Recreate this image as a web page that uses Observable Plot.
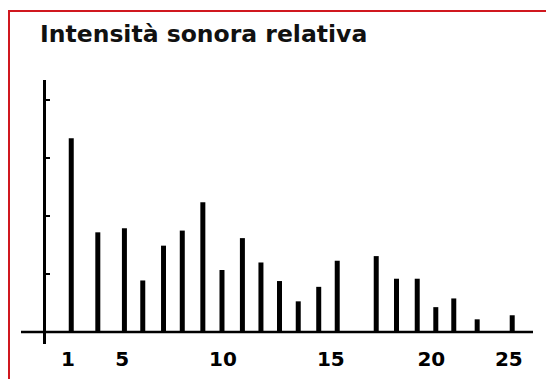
<!DOCTYPE html>
<html><head><meta charset="utf-8">
<script src="https://cdn.jsdelivr.net/npm/d3@7"></script>
<script src="https://cdn.jsdelivr.net/npm/@observablehq/plot@0.6"></script>
<style>
body{margin:0;background:#fff;}
#wrap{position:relative;width:546px;height:379px;overflow:hidden;background:#fff;}
#title{position:absolute;left:40px;top:23.2px;font-family:"DejaVu Sans";font-weight:bold;font-size:23.5px;line-height:23.5px;color:#111;white-space:nowrap;}
#border{position:absolute;left:8px;top:10px;right:-10px;bottom:-10px;border-top:2px solid #d0181f;border-left:2px solid #d0181f;pointer-events:none;}
#chart{position:absolute;left:0;top:60px;}
</style></head><body>
<div id="wrap"><div id="chart"></div><div id="title">Intensità sonora relativa</div><div id="border"></div></div>
<script>
// Harmonic positions (in units of the x-axis labels)
const harmonics = [1.24, 3.2, 5.11, 6.02, 7.05, 7.98, 9.0, 9.95, 10.9, 11.76, 12.62, 13.49, 14.44, 15.32, 17.26, 18.27, 19.3, 20.29, 21.45, 22.96, 25.22];
// Relative intensity (one unit = one y tick)
const intensity = [3.33, 1.71, 1.78, 0.88, 1.48, 1.74, 2.23, 1.06, 1.61, 1.19, 0.87, 0.52, 0.77, 1.22, 1.30, 0.91, 0.91, 0.42, 0.57, 0.21, 0.28];
const xTickLabels = [1, 5, 10, 15, 20, 25];
const yTickValues = [1, 2, 3, 4];
const axisOrigin = [0];

const data = harmonics.map((h, i) => ({h, v: intensity[i]}));

const chart = Plot.plot({
  width: 546,
  height: 319,
  marginLeft: 21,
  marginRight: 13,
  marginTop: 20,
  marginBottom: 35,
  style: {background: "transparent", fontFamily: "DejaVu Sans", fontWeight: "bold", fontSize: "20px", color: "#000", overflow: "visible"},
  x: {type: "linear", domain: [0, 1, 5, 10, 15, 20, 25], range: [44, 67.5, 121.7, 222.5, 330.3, 430.8, 508.3]},
  y: {domain: [0, 4], range: [271.5, 39.5]},
  marks: [
    Plot.ruleY(axisOrigin, {stroke: "#000", strokeWidth: 2.5}),
    Plot.ruleX(axisOrigin, {stroke: "#000", strokeWidth: 3}),
    Plot.axisY({ticks: yTickValues, tickSize: -6, dx: 23, strokeWidth: 2, tickFormat: () => "", label: null}),
    Plot.axisX({ticks: xTickLabels, tickSize: 0, tickPadding: 7, tickFormat: d => String(d), label: null, fontSize: 20}),
    Plot.ruleX(data, {x: "h", y1: 0, y2: "v", stroke: "#000", strokeWidth: 5})
  ]
});
document.getElementById("chart").appendChild(chart);
</script>
</body></html>
